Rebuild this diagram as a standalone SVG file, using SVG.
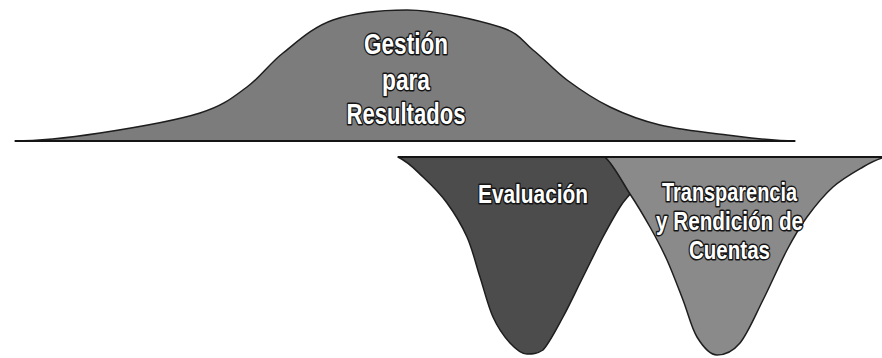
<svg xmlns="http://www.w3.org/2000/svg" width="882" height="358" viewBox="0 0 882 358">
<style>
.shape{stroke:#1e1e1e;stroke-width:1.5;stroke-linejoin:round}
.lbl{font-family:"Liberation Sans Narrow","Liberation Sans","Arial Narrow",Arial,sans-serif;font-weight:bold;fill:#ffffff;stroke:#151515;stroke-width:3;paint-order:stroke;stroke-linejoin:round;text-anchor:middle}
.edge{stroke:#151515;stroke-width:2;fill:none}
</style>
<rect width="882" height="358" fill="#ffffff"/>
<g id="gestion">
<path class="shape" fill="#7c7c7c" d="M15,141 C43,141 69.2,137.7 100,133 C130.8,128.3 175.5,120.7 200,113 C224.5,105.3 233.2,97 247,87 C260.8,77 268.7,64.2 283,53 C297.3,41.8 312.3,27.2 333,20 C353.7,12.8 379,10 407,10 C435,10 479,20.3 500,27 C521,33.7 521.8,41.2 533,50 C544.2,58.8 554.2,70.5 567,80 C579.8,89.5 594.5,99.5 610,107 C625.5,114.5 640.5,120.3 660,125 C679.5,129.7 704.5,132.3 727,135 C749.5,137.7 772,141 795,141 Z"/>
<line class="edge" x1="15" y1="141" x2="795" y2="141"/>
<text class="lbl" font-size="29" x="406" y="54" textLength="84" lengthAdjust="spacingAndGlyphs">Gestión</text>
<text class="lbl" font-size="29" x="406" y="90" textLength="48" lengthAdjust="spacingAndGlyphs">para</text>
<text class="lbl" font-size="29" x="406" y="124" textLength="119" lengthAdjust="spacingAndGlyphs">Resultados</text>
</g>
<g id="evaluacion">
<path class="shape" fill="#4c4c4c" d="M398,157 C410,163 414.8,169.3 423,177 C431.2,184.7 439.7,193 447,203 C454.3,213 461.5,224.7 467,237 C472.5,249.3 475.7,263.7 480,277 C484.3,290.3 488,306 493,317 C498,328 504.3,336.8 510,343 C515.7,349.2 521.5,354 527,354 C532.5,354 537,354 543,350 C549,343.8 556.3,329.2 563,317 C569.7,304.8 576.3,290.3 583,277 C589.7,263.7 596.8,248.7 603,237 C609.2,225.3 615.5,214.2 620,207 C624.5,199.8 626.7,198.3 630,194 C624,185 614,165 605,157 Z"/>
<text class="lbl" font-size="26" x="533" y="203" textLength="110" lengthAdjust="spacingAndGlyphs">Evaluación</text>
</g>
<g id="transparencia">
<path class="shape" fill="#8a8a8a" d="M605,157 C614,165 624,185 630,194 C636,203 643.8,216 650,227 C656.2,238 661.5,247.8 667,260 C672.5,272.2 678,287.2 683,300 C688,312.8 691.3,327.8 697,337 C702.7,346.2 710,355 717,355 C724,355 732.3,352.2 740,343 C747.7,333.8 755.2,315.5 763,300 C770.8,284.5 779.7,263.8 787,250 C794.3,236.2 799.3,227.5 807,217 C814.7,206.5 823.7,195.3 833,187 C842.3,178.7 854.8,171.8 863,167 C871.2,162.2 876,160 882,158 L882,157 Z"/>
<text class="lbl" font-size="25" x="729.5" y="201" textLength="135" lengthAdjust="spacingAndGlyphs">Transparencia</text>
<text class="lbl" font-size="25" x="729.5" y="230" textLength="147" lengthAdjust="spacingAndGlyphs">y Rendición de</text>
<text class="lbl" font-size="25" x="729.5" y="259" textLength="81" lengthAdjust="spacingAndGlyphs">Cuentas</text>
</g>
<line class="edge" x1="398" y1="157" x2="882" y2="157"/>
<g id="connectors"/>
</svg>
